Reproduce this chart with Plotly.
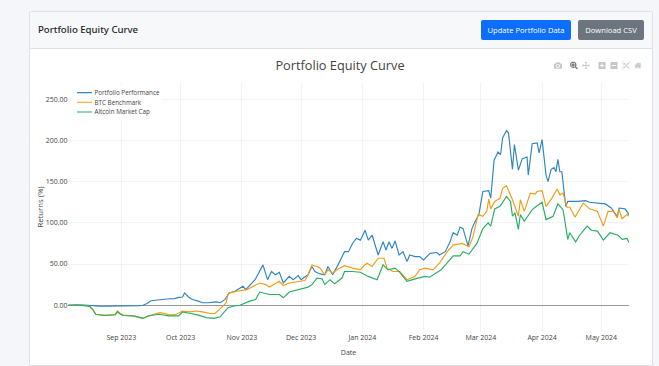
import datetime as dt
import plotly.graph_objects as go

START = dt.date(2023, 8, 5)

portfolio_days = [0,4,8,12,16,20,26,32,36,38,40,42,46,50,54,56,58,59,61,63,66,68,71,75,77,79.5,81.5,84.5,88.6,90,94.7,98.7,101,103,105,107,109,112,114,116.5,118,121.5,123.5,125,127.6,130,131.6,134,136.7,140,142,144,146,148,150.4,152,154,157,159.5,161,162.5,164,165.6,167.6,169.6,171.6,173,175.7,178,180,183.3,186.8,188,191,193.4,195,197,198.5,200,202.5,204.5,206,208,210,213,214,215.7,217.7,219,220,222,223,225,226,228,230,232.4,233,235,237.5,238.5,240,242,243,244.6,246,247,248,249,250,252,253,258,262,264,272,275,278,279,282,284]
portfolio_values = [0,0.5,0.3,-0.5,-1,-1.2,-1,-0.8,-0.5,0,2,5.5,6.5,7.5,8,9.5,10,15,10,7,5,3,3,4,3,7,15,17,23,19,31,49,31,41,37,40,27,35,31,36,31,37,47,41,38,37,47,37,49,65,65,75,81,79,91,79,85,61,77,67,77,69,78,61,65,53,61,59,59,55,63,64,61,65,77,88,85,95,93,72,93,101,110,138,139,130,176,186,183,203,212,209,165,195,164,178,180,158,196,197,185,201,158,150,165,167,162,177,162,162,120,126,126,127,125,123,118,108,118,117,110]

btc_days = [0,5,9,11,12.5,14,18,22,24,25,26.5,28,33,38,40.5,46.6,49,51.6,55,58,62,65,68,72,74.4,77,78.5,80,81,82,85.5,90.6,97,100,102,107,109,112,118,120,121.5,123.5,126,127.6,130,131.6,134,136.7,140,144,148,149.4,151.4,154,157,160,161.5,164.6,168,171.6,175.7,178,180.8,184.8,188,192,195,199.5,203,205,207.6,210,212,213,214,216,218.7,220,222,224,225,228,229,231,234,236.5,237.5,240,242,245,247.6,249,250.6,252.6,254,256.7,260.8,264,268,271,273.4,276,278,279,280.5,283,284]
btc_values = [0,0,-0.5,-1.5,-5,-11,-12,-12,-11,-7,-10,-12,-13,-16,-13,-9,-10,-12,-11,-7,-8,-7,-8,-10,-10,-4.5,-1,3,13,15,17,19,27,25,22,29,24,27,29,30,37,49,47,45,37,43,39,44,48,45,43,47,51,47,57,57,45,41,41,31,35,43,45,43,51,65,73,75,71,83,110,108,114,129,117,126,130,142,145,134,128,108,128,114,136,135,138,139,120,130,141,134,136,119,119,107,124,117,114,96,114,114,106,116,105,110,108]

altcoin_days = [0,5,9,11,12.5,14,18,22,24,25,26.5,28,33,38,40.5,46,51,56,58,62,66,70,74,77,81,84,87,92,95,97,102,107,109,112,121.5,123.5,126,128.6,130,132.6,135,138.7,140,144,148,152,156.5,159.5,162,165.6,168,171.6,175.7,180.8,183,188.9,192.4,195,198.5,200,203,207,210,212.7,214,216,218.7,222,224,225,226.3,228,229,231,235,236.5,240,242,245.6,248,250.6,253,254,257,259,262.8,265,268,271,274.4,278.5,280.5,283,284]
altcoin_values = [0,0,-0.5,-1.5,-5,-11,-12.5,-12,-11.5,-8,-11,-12.5,-13,-16,-13,-11,-13,-13,-8,-10,-12,-15,-16,-14,-3,-1,0,5,7,16,13,13,9,16,22,25,33,32,25,31,26,33,41,41,40,35,31,49,43,45,40,29,32,35,34,43,53,60,60,65,62,75,93,100,96,117,120,132,126,108,112,92,110,102,116,119,125,104,108,123,116,80,88,77,85,96,91,90,79,88,85,80,81,76]

SERIES_NAMES = ["Portfolio Performance", "BTC Benchmark", "Altcoin Market Cap"]
COLORS = ["#2e86c1", "#f39c12", "#27ae60"]


def to_dates(days):
    return [dt.datetime.combine(START, dt.time()) + dt.timedelta(days=d) for d in days]


fig = go.Figure()
for name, color, days, vals in zip(
    SERIES_NAMES, COLORS,
    [portfolio_days, btc_days, altcoin_days],
    [portfolio_values, btc_values, altcoin_values],
):
    fig.add_trace(go.Scatter(x=to_dates(days), y=vals, mode="lines", name=name,
                             line=dict(color=color, width=2.3)))

FONT = "Open Sans, sans-serif"
fig.update_layout(
    width=1220, height=610,
    margin=dict(l=66, r=32, t=54, b=56),
    paper_bgcolor="white", plot_bgcolor="white",
    font=dict(family=FONT, color="#444", size=14),
    title=dict(text="Portfolio Equity Curve", x=0.5, xref="container", xanchor="center",
               y=0.967, yref="container", yanchor="middle", font=dict(size=25.5, color="#444")),
    legend=dict(x=0.0115, y=0.987, xanchor="left", yanchor="top", bgcolor="rgba(255,255,255,0.9)",
                font=dict(size=12.6, color="#444")),
    xaxis=dict(title=dict(text="Date", standoff=18, font=dict(size=14)), type="date",
               range=[START.isoformat(), "2024-05-15"], tick0="2023-09-01", dtick="M1",
               tickformat="%b %Y", tickfont=dict(size=14), gridcolor="#e6e8ee", gridwidth=1,
               showgrid=True, zeroline=False, showline=False, automargin=False),
    yaxis=dict(title=dict(text="Returns (%)", standoff=0, font=dict(size=15.5)),
               range=[-32.5, 271], tick0=0, dtick=50, tickformat=".2f", tickfont=dict(size=14),
               gridcolor="#e6e8ee", gridwidth=1, zeroline=True, zerolinecolor="#999",
               zerolinewidth=2, showline=False, automargin=False),
    hovermode="x unified",
    dragmode="zoom",
)

POST = """
(function(){
  var gd = document.getElementById('{plot_id}');
  var holder = gd.parentElement;
  var st = document.createElement('style');
  st.textContent = 'html,body{margin:0;padding:0;background:#f4f6f9;overflow:hidden;width:659px;height:366px}'
   + '#card{position:absolute;left:29px;top:11px;width:622px;height:353px;background:#fff;border:1px solid #dee2e6;border-radius:2px;box-sizing:content-box}'
   + '#hdr{position:absolute;left:0;top:0;right:0;height:36px;background:#f7f8fa;border-bottom:1px solid #dee2e6}'
   + '#hdr span{position:absolute;left:8px;top:11px;font:500 9.6px "Noto Sans",sans-serif;color:#212529}'
   + '#hdr b{position:absolute;top:8px;height:20px;line-height:20px;text-align:center;color:#fff;border-radius:2px;font:400 7.6px/20px "Open Sans",sans-serif}'
   + '#holder{position:absolute;left:35px;top:55px;width:1220px;height:610px;transform:scale(.5);transform-origin:0 0}'
   + '.modebar{top:10px !important}';
  document.head.appendChild(st);
  var card = document.createElement('div');
  card.id = 'card';
  card.innerHTML = '<div id="hdr"><span>Portfolio Equity Curve</span>'
   + '<b style="left:451px;width:90px;background:#0d6efd">Update Portfolio Data</b>'
   + '<b style="left:548px;width:66px;background:#6c757d">Download CSV</b></div>';
  document.body.insertBefore(card, document.body.firstChild);
  holder.id = 'holder';
})();
"""

fig.write_html("out.html", post_script=POST,
               config=dict(displayModeBar=True, displaylogo=False, responsive=False))
